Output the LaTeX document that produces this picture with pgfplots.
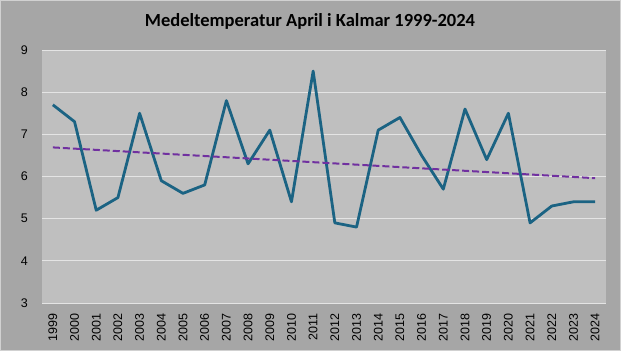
\documentclass[border=0pt]{standalone}
\usepackage{pgfplots}
\pgfplotsset{compat=1.18}
\usepackage{fontspec}
\setmainfont{Liberation Sans}
\newfontfamily\titlefont{Carlito}
\definecolor{outerbg}{HTML}{A6A6A6}
\definecolor{plotbg}{HTML}{BFBFBF}
\definecolor{linecol}{HTML}{1B6383}
\definecolor{trendcol}{HTML}{7030A0}
\definecolor{gridcol}{HTML}{E4E4E4}
\begin{document}
\begin{tikzpicture}[x=1pt,y=1pt]
\fill[outerbg] (-42,-48) rectangle (579,303);
\draw[color=gridcol!70!outerbg,line width=1pt] (-41.5,-47.5) rectangle (578.5,302.5);
\node[font=\titlefont\bfseries\fontsize{18.5}{20}\selectfont] at (268,282) {Medeltemperatur April i Kalmar 1999-2024};
\begin{axis}[
  at={(0,0)}, anchor=south west,
  scale only axis, width=564pt, height=253pt,
  xmin=-0.5, xmax=25.5, ymin=3, ymax=9,
  axis background/.style={fill=plotbg},
  axis line style={draw=none},
  ytick={3,4,5,6,7,8,9},
  ymajorgrids, grid style={gridcol, line width=0.8pt},
  xtick={0,...,25},
  xticklabels={1999,2000,2001,2002,2003,2004,2005,2006,2007,2008,2009,2010,2011,2012,2013,2014,2015,2016,2017,2018,2019,2020,2021,2022,2023,2024},
  xticklabel style={rotate=90, anchor=east, inner sep=0pt, font=\fontsize{12.5}{14}\selectfont},
  yticklabel style={inner sep=0pt, font=\fontsize{12.5}{14}\selectfont},
  major tick length=0pt,
  /pgf/number format/assume math mode=true,
  ytick style={draw=none}, xtick style={draw=none},
  yticklabel shift=14pt, xticklabel shift=10pt,
]
\addplot[linecol, line width=2.8pt, line join=round] coordinates {
(0,7.7) (1,7.3) (2,5.2) (3,5.5) (4,7.5) (5,5.9) (6,5.6) (7,5.8) (8,7.8) (9,6.3)
(10,7.1) (11,5.4) (12,8.5) (13,4.9) (14,4.8) (15,7.1) (16,7.4) (17,6.5) (18,5.7)
(19,7.6) (20,6.4) (21,7.5) (22,4.9) (23,5.3) (24,5.4) (25,5.4)};
\addplot[trendcol, line width=2pt, dash pattern=on 7pt off 3pt] coordinates {(0,6.69) (25,5.96)};
\end{axis}
\end{tikzpicture}
\end{document}
